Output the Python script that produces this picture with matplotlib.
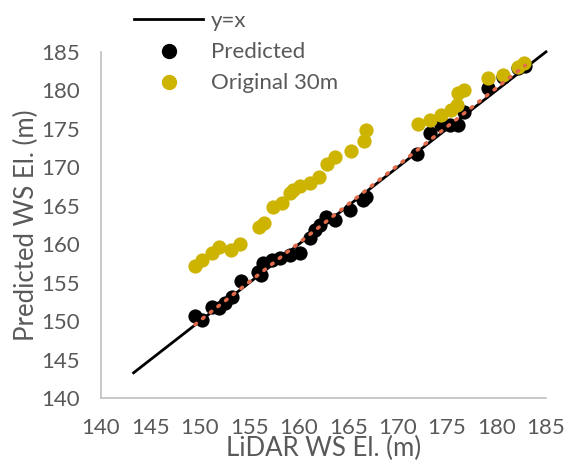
import numpy as np
from matplotlib import pyplot as plt
from matplotlib.lines import Line2D

# LiDAR water surface elevation vs. predicted (m)
pred_x = [149.5, 150.2, 151.2, 151.9, 152.5, 153.3, 154.2, 155.9, 156.2, 156.4,
          157.3, 158.1, 159.1, 160.1, 161.1, 161.6, 162.2, 162.8, 163.7, 165.2,
          166.5, 166.8, 172.0, 173.3, 174.4, 175.3, 176.1, 176.7, 179.1, 180.7,
          182.2, 182.9]
pred_y = [150.7, 150.2, 151.9, 151.7, 152.4, 153.2, 155.2, 156.4, 156.0, 157.5,
          157.9, 158.2, 158.6, 158.8, 160.8, 161.8, 162.5, 163.6, 163.1, 164.4,
          165.7, 166.1, 171.7, 174.4, 175.5, 175.5, 175.5, 177.2, 180.3, 181.7,
          182.9, 183.1]

# LiDAR water surface elevation vs. original 30m DEM (m)
orig_x = [149.5, 150.2, 151.2, 151.9, 153.2, 154.1, 156.0, 156.5, 157.4, 158.3,
          159.1, 159.4, 160.1, 161.1, 162.0, 162.9, 163.7, 165.3, 166.6, 166.8,
          172.1, 173.3, 174.4, 175.4, 176.0, 176.1, 176.7, 179.1, 180.7, 182.2,
          182.8]
orig_y = [157.2, 158.0, 158.8, 159.7, 159.2, 160.0, 162.2, 162.8, 164.9, 165.4,
          166.6, 167.0, 167.6, 167.9, 168.8, 170.4, 171.4, 172.1, 173.4, 174.8,
          175.6, 176.2, 176.8, 177.4, 178.1, 179.7, 180.1, 181.6, 182.0, 183.0,
          183.6]

line_x = [143.3, 185.0]

gray_text = '#595959'
yellow = '#CDB400'
trend_color = '#E06A4A'

plt.rcParams['font.family'] = ['Lato', 'DejaVu Sans']

fig = plt.figure(figsize=(5.64, 4.63), dpi=100)
ax = fig.add_axes([0.179, 0.140, 0.789, 0.748])

ax.plot(line_x, line_x, color='black', lw=2, zorder=2, clip_on=False)
ax.scatter(pred_x, pred_y, s=105, color='black', zorder=3, linewidths=0)
ax.scatter(orig_x, orig_y, s=105, color=yellow, zorder=4, linewidths=0)

# linear trend of predicted points
k, b = np.polyfit(pred_x, pred_y, 1)
tx = np.array([min(pred_x), max(pred_x)])
ax.plot(tx, k * tx + b, color=trend_color, lw=2.6, ls=(0, (0.5, 2.2)),
        dash_capstyle='round', zorder=5)

ax.set_xlim(140, 185)
ax.set_ylim(140, 185)
ax.set_xticks(np.arange(140, 186, 5))
ax.set_yticks(np.arange(140, 186, 5))
ax.tick_params(length=0, labelsize=16, labelcolor=gray_text)
ax.tick_params(axis='y', pad=15)
ax.tick_params(axis='x', pad=14)
for side in ['top', 'right']:
    ax.spines[side].set_visible(False)
for side in ['left', 'bottom']:
    ax.spines[side].set_color('#BFBFBF')
    ax.spines[side].set_linewidth(1.2)

ax.set_xlabel('LiDAR WS El. (m)', fontsize=18.5, color=gray_text, labelpad=-1)
ax.set_ylabel('Predicted WS El. (m)', fontsize=18.5, color=gray_text, labelpad=2)

handles = [
    Line2D([], [], color='black', lw=2),
    Line2D([], [], color='black', marker='o', ls='none', markersize=10),
    Line2D([], [], color=yellow, marker='o', ls='none', markersize=10),
]
fig.legend(handles, ['y=x', 'Predicted', 'Original 30m'],
           loc='upper left', bbox_to_anchor=(0.222, 0.995), frameon=False,
           fontsize=16, labelcolor=gray_text, handlelength=3.1,
           handletextpad=0.35, labelspacing=0.5, borderaxespad=0.0)

fig.savefig('out.png', dpi=100)
